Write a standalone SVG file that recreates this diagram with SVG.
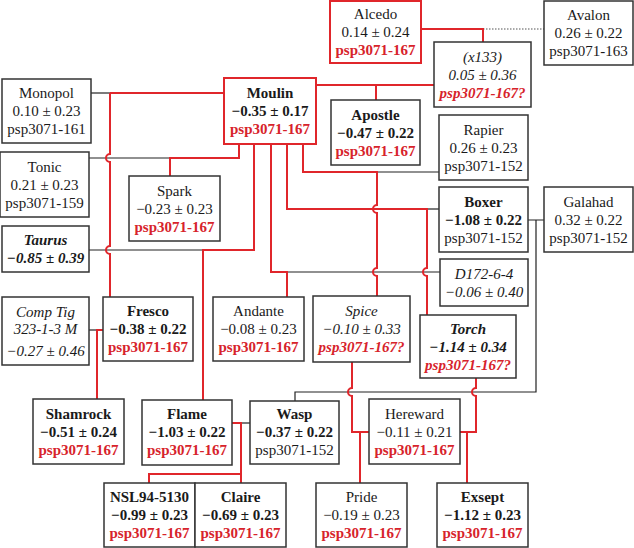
<svg xmlns="http://www.w3.org/2000/svg" width="634" height="548" viewBox="0 0 634 548">
<style>
.bx{fill:#fff;stroke:#333;stroke-width:1.5}
.rbx{fill:#fff;stroke:#e0262b;stroke-width:2}
text{font-family:"Liberation Serif","Times New Roman",serif;font-size:15px;text-anchor:middle;fill:#1a1a1a}
.b{font-weight:bold}
.i{font-style:italic}
.r{fill:#d7232b;font-weight:bold}
.rl{fill:none;stroke:#e0262b;stroke-width:2}
.bl{fill:none;stroke:#222;stroke-width:1.2}
.dl{fill:none;stroke:#555;stroke-width:1.2;stroke-dasharray:1.5 1.5}
</style>
<rect width="634" height="548" fill="#fff"/>
<g id="connectors">
<path class="bl" d="M91,93 H110"/>
<path class="bl" d="M89,158 H170"/>
<path class="bl" d="M89,250 H203"/>
<path class="bl" d="M377,172 H439"/>
<path class="bl" d="M427,209 H439"/>
<path class="bl" d="M287,272 H440"/>
<path class="bl" d="M89,330 H97"/>
<path class="bl" d="M241,423 H250"/>
<path class="bl" d="M528,220 H544 M536,220 V392 H295 V401"/>
<path class="dl" d="M483,29 H544"/>
<path class="rl" d="M421,29 H483 V42"/>
<path class="rl" d="M316,85 H434 M376,85 V100"/>
<path class="rl" d="M110,93 H224 M110,93 V154 A4,4 0 0 0 110,162 V246 A4,4 0 0 0 110,254 V297"/>
<path class="rl" d="M170,176 V158 H239 V144"/>
<path class="rl" d="M203,400 V250 H254 V144"/>
<path class="rl" d="M271,144 V272 H287 V297"/>
<path class="rl" d="M287,144 V209 H427 V268 A4,4 0 0 0 427,276 V315"/>
<path class="rl" d="M303,144 V172 H377 V205 A4,4 0 0 0 377,213 V268 A4,4 0 0 0 377,276 V296"/>
<path class="rl" d="M97,399 V330 H103"/>
<path class="rl" d="M232,423 H241 V483 M149,483 V474 H241"/>
<path class="rl" d="M352,362 V388 A4,4 0 0 0 352,396 V432 H369 M360,432 V483"/>
<path class="rl" d="M476,378 V388 A4,4 0 0 0 476,396 V432 H460 M467,432 V483"/>
</g>
<g id="alcedo"><rect class="rbx" x="330" y="1" width="91" height="62"/><text x="375.5" y="19">Alcedo</text><text x="375.5" y="37">0.14 ± 0.24</text><text class="r" x="375.5" y="55">psp3071-167</text></g>
<g id="avalon"><rect class="bx" x="544" y="1" width="89" height="64"/><text x="588.5" y="20">Avalon</text><text x="588.5" y="38">0.26 ± 0.22</text><text x="588.5" y="56">psp3071-163</text></g>
<g id="x133"><rect class="bx" x="434" y="42" width="97" height="65"/><text class="i" x="482.5" y="61.5">(x133)</text><text class="i" x="482.5" y="79.5">0.05 ± 0.36</text><text class="r i" x="482.5" y="97.5">psp3071-167?</text></g>
<g id="moulin"><rect class="rbx" x="224" y="78" width="92" height="66"/><text class="b" x="270" y="98">Moulin</text><text class="b" x="270" y="116">−0.35 ± 0.17</text><text class="r" x="270" y="134">psp3071-167</text></g>
<g id="apostle"><rect class="bx" x="331" y="100" width="89" height="65"/><text class="b" x="375.5" y="119.5">Apostle</text><text class="b" x="375.5" y="137.5">−0.47 ± 0.22</text><text class="r" x="375.5" y="155.5">psp3071-167</text></g>
<g id="rapier"><rect class="bx" x="439" y="115" width="89" height="65"/><text x="483.5" y="134.5">Rapier</text><text x="483.5" y="152.5">0.26 ± 0.23</text><text x="483.5" y="170.5">psp3071-152</text></g>
<g id="monopol"><rect class="bx" x="2" y="79" width="89" height="64"/><text x="46.5" y="98">Monopol</text><text x="46.5" y="116">0.10 ± 0.23</text><text x="46.5" y="134">psp3071-161</text></g>
<g id="tonic"><rect class="bx" x="0" y="152" width="89" height="65"/><text x="44.5" y="171.5">Tonic</text><text x="44.5" y="189.5">0.21 ± 0.23</text><text x="44.5" y="207.5">psp3071-159</text></g>
<g id="spark"><rect class="bx" x="129" y="176" width="91" height="65"/><text x="174.5" y="195.5">Spark</text><text x="174.5" y="213.5">−0.23 ± 0.23</text><text class="r" x="174.5" y="231.5">psp3071-167</text></g>
<g id="taurus"><rect class="bx" x="2" y="226" width="87" height="46"/><text class="b i" x="45.5" y="245">Taurus</text><text class="b i" x="45.5" y="263">−0.85 ± 0.39</text></g>
<g id="boxer"><rect class="bx" x="439" y="187" width="89" height="65"/><text class="b" x="483.5" y="206.5">Boxer</text><text class="b" x="483.5" y="224.5">−1.08 ± 0.22</text><text x="483.5" y="242.5">psp3071-152</text></g>
<g id="galahad"><rect class="bx" x="544" y="187" width="89" height="65"/><text x="588.5" y="206.5">Galahad</text><text x="588.5" y="224.5">0.32 ± 0.22</text><text x="588.5" y="242.5">psp3071-152</text></g>
<g id="d172"><rect class="bx" x="440" y="259" width="88" height="47"/><text class="i" x="484" y="279">D172-6-4</text><text class="i" x="484" y="297">−0.06 ± 0.40</text></g>
<g id="comptig"><rect class="bx" x="2" y="297" width="87" height="68"/><text class="i" x="45.5" y="317">Comp Tig</text><text class="i" x="45.5" y="334">323-1-3 M</text><text class="i" x="45.5" y="356">−0.27 ± 0.46</text></g>
<g id="fresco"><rect class="bx" x="103" y="297" width="90" height="64"/><text class="b" x="148" y="316">Fresco</text><text class="b" x="148" y="334">−0.38 ± 0.22</text><text class="r" x="148" y="352">psp3071-167</text></g>
<g id="andante"><rect class="bx" x="213" y="297" width="91" height="64"/><text x="258.5" y="316">Andante</text><text x="258.5" y="334">−0.08 ± 0.23</text><text class="r" x="258.5" y="352">psp3071-167</text></g>
<g id="spice"><rect class="bx" x="313" y="296" width="97" height="66"/><text class="i" x="361.5" y="316">Spice</text><text class="i" x="361.5" y="334">−0.10 ± 0.33</text><text class="r i" x="361.5" y="352">psp3071-167?</text></g>
<g id="torch"><rect class="bx" x="420" y="315" width="96" height="63"/><text class="b i" x="468" y="333.5">Torch</text><text class="b i" x="468" y="351.5">−1.14 ± 0.34</text><text class="r i" x="468" y="369.5">psp3071-167?</text></g>
<g id="shamrock"><rect class="bx" x="33" y="399" width="91" height="65"/><text class="b" x="78.5" y="418.5">Shamrock</text><text class="b" x="78.5" y="436.5">−0.51 ± 0.24</text><text class="r" x="78.5" y="454.5">psp3071-167</text></g>
<g id="flame"><rect class="bx" x="142" y="400" width="90" height="65"/><text class="b" x="187" y="419">Flame</text><text class="b" x="187" y="437">−1.03 ± 0.22</text><text class="r" x="187" y="455">psp3071-167</text></g>
<g id="wasp"><rect class="bx" x="250" y="401" width="89" height="63"/><text class="b" x="294.5" y="419">Wasp</text><text class="b" x="294.5" y="437">−0.37 ± 0.22</text><text x="294.5" y="455">psp3071-152</text></g>
<g id="hereward"><rect class="bx" x="369" y="399" width="91" height="65"/><text x="414.5" y="418.5">Hereward</text><text x="414.5" y="436.5">−0.11 ± 0.21</text><text class="r" x="414.5" y="454.5">psp3071-167</text></g>
<g id="nsl"><rect class="bx" x="104" y="483" width="91" height="64"/><text class="b" x="149.5" y="502">NSL94-5130</text><text class="b" x="149.5" y="520">−0.99 ± 0.23</text><text class="r" x="149.5" y="538">psp3071-167</text></g>
<g id="claire"><rect class="bx" x="195" y="483" width="91" height="64"/><text class="b" x="240.5" y="502">Claire</text><text class="b" x="240.5" y="520">−0.69 ± 0.23</text><text class="r" x="240.5" y="538">psp3071-167</text></g>
<g id="pride"><rect class="bx" x="316" y="483" width="91" height="64"/><text x="361.5" y="502">Pride</text><text x="361.5" y="520">−0.19 ± 0.23</text><text class="r" x="361.5" y="538">psp3071-167</text></g>
<g id="exsept"><rect class="bx" x="437" y="483" width="91" height="64"/><text class="b" x="482.5" y="502">Exsept</text><text class="b" x="482.5" y="520">−1.12 ± 0.23</text><text class="r" x="482.5" y="538">psp3071-167</text></g>
</svg>
